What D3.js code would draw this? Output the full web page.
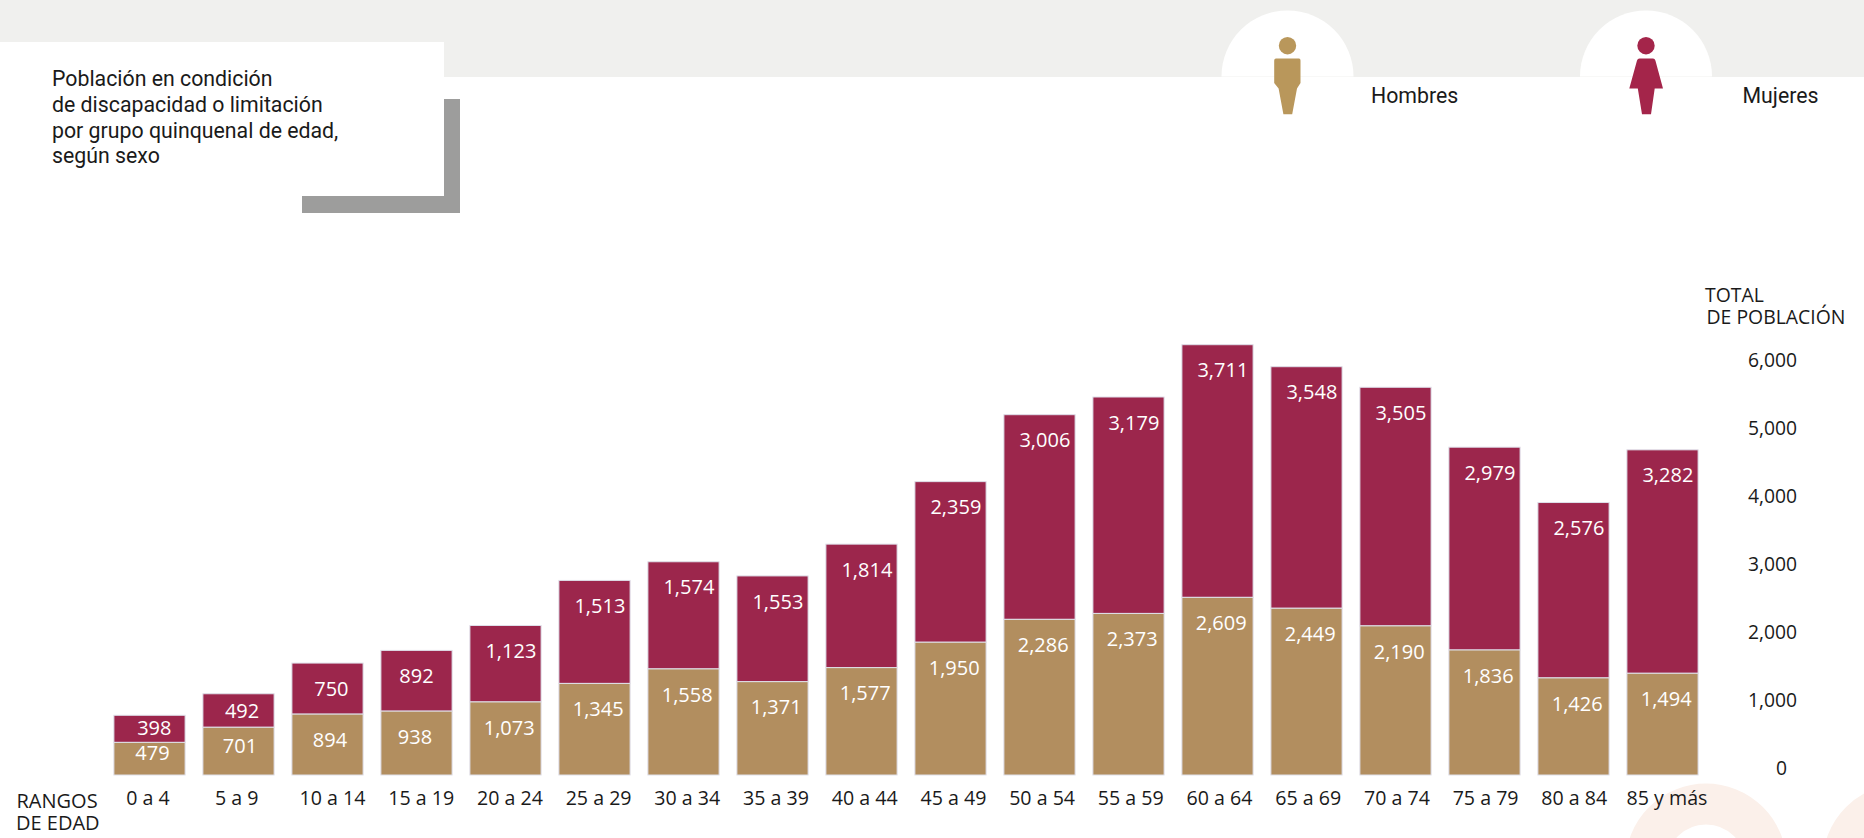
<!DOCTYPE html>
<html lang="es">
<head>
<meta charset="utf-8">
<title>Población en condición de discapacidad o limitación</title>
<script src="https://cdn.jsdelivr.net/npm/d3@7/dist/d3.min.js"></script>
<style>
html,body{margin:0;padding:0;background:#fff}
svg{display:block}
.open{font-family:"Open Sans",sans-serif}
.rob{font-family:Roboto,sans-serif}
</style>
</head>
<body>
<svg id="chart" width="1864" height="838"></svg>
<script>
const categories = ["0 a 4","5 a 9","10 a 14","15 a 19","20 a 24","25 a 29","30 a 34","35 a 39","40 a 44","45 a 49","50 a 54","55 a 59","60 a 64","65 a 69","70 a 74","75 a 79","80 a 84","85 y más"];
const hombres = [479,701,894,938,1073,1345,1558,1371,1577,1950,2286,2373,2609,2449,2190,1836,1426,1494];
const mujeres = [398,492,750,892,1123,1513,1574,1553,1814,2359,3006,3179,3711,3548,3505,2979,2576,3282];
const yTicks = [0,1000,2000,3000,4000,5000,6000];
const titleLines = ["Población en condición","de discapacidad o limitación","por grupo quinquenal de edad,","según sexo"];

const C_MEN = "#b28e5f", C_WOMEN = "#9c264c", C_INK = "#1a1a1a";
const fmt = d3.format(",");
const svg = d3.select("#chart");

/* ---------- header furniture ---------- */
svg.append("rect").attr("x",0).attr("y",0).attr("width",1864).attr("height",77).attr("fill","#f0f0ee");
svg.append("rect").attr("x",0).attr("y",42).attr("width",444).attr("height",180).attr("fill","#fff");
svg.append("rect").attr("x",444).attr("y",99).attr("width",16).attr("height",114).attr("fill","#9d9d9c");
svg.append("rect").attr("x",302).attr("y",196).attr("width",158).attr("height",17).attr("fill","#9d9d9c");

const titleText = svg.append("g").attr("class","rob").attr("font-size",21.3).attr("fill",C_INK);
titleLines.forEach((t,i)=> titleText.append("text").attr("x",52).attr("y",86+i*25.8).text(t));

/* ---------- decorative rings, bottom right ---------- */
[1706,1903].forEach(cx=>{
  svg.append("circle").attr("cx",cx).attr("cy",864).attr("r",60)
    .attr("fill","none").attr("stroke","#fbf0ea").attr("stroke-width",41);
});

/* ---------- legend ---------- */
const legendGroups = [
  {label:"Hombres",cx:1287.5,tx:1371,color:"#b9975b",
   body:"M1276,58.5 H1299 Q1300.5,58.5 1300.5,60.5 V83 L1297,88.5 L1292.2,114.3 H1283.4 L1278.6,88.5 L1274.2,83 V60.5 Q1274.2,58.5 1276,58.5 Z"},
  {label:"Mujeres",cx:1646,tx:1742.5,color:"#a4254a",
   body:"M1639.5,58.5 H1653 Q1654.8,58.5 1655.4,60.5 L1663,88.5 H1654.7 L1651,114.3 H1642 L1637.8,88.5 H1629.3 L1637,60.5 Q1637.6,58.5 1639.5,58.5 Z"}
];
legendGroups.forEach(l=>{
  svg.append("path").attr("fill","#fff")
    .attr("d",d3.arc()({innerRadius:0,outerRadius:66,startAngle:-Math.PI/2,endAngle:Math.PI/2}))
    .attr("transform",`translate(${l.cx},76.5)`);
  svg.append("circle").attr("cx",l.cx).attr("cy",45.7).attr("r",8.7).attr("fill",l.color);
  svg.append("path").attr("d",l.body).attr("fill",l.color);
  svg.append("text").attr("class","rob").attr("x",l.tx).attr("y",102.5)
    .attr("font-size",21.3).attr("fill",C_INK).text(l.label);
});

/* ---------- scales ---------- */
const x = d3.scaleBand().domain(categories).range([105,1707]).paddingInner(0.2).paddingOuter(0.1);
const y = d3.scaleLinear().domain([0,6000]).range([775,366.5]);
const tickX = d3.scalePoint().domain(categories).range([154.6,154.6+88.7*17]);

/* ---------- bars ---------- */
const rows = categories.map((c,i)=>({c,i,m:hombres[i],w:mujeres[i]}));
const bars = svg.append("g");
const barAttrs = s => s.attr("x",d=>x(d.c)).attr("width",x.bandwidth())
  .attr("stroke","#dfe0ea").attr("stroke-width",1);
bars.selectAll("rect.w").data(rows).join("rect").attr("class","w").call(barAttrs)
  .attr("y",d=>y(d.m+d.w)).attr("height",d=>y(d.m)-y(d.m+d.w)).attr("fill",C_WOMEN);
bars.selectAll("rect.m").data(rows).join("rect").attr("class","m").call(barAttrs)
  .attr("y",d=>y(d.m)).attr("height",d=>y(0)-y(d.m)).attr("fill",C_MEN);

/* ---------- value labels: inset from segment top, with hand nudges for short segments ---------- */
const womenInset = {0:12.6,1:16.7};
const menInset = {0:10.7,1:18.7};
const womenDx = {0:4.8,1:3.6,2:3.9,3:0};
const menDx = {0:3,1:1.5,2:2.5,3:-1.5};
const LABEL_SIZE = 20, midShift = LABEL_SIZE*0.357;
const labels = svg.append("g").attr("class","open").attr("font-size",LABEL_SIZE)
  .attr("fill","#fff").attr("text-anchor","middle");
labels.selectAll("text.w").data(rows).join("text").attr("class","w")
  .attr("x",d=>x(d.c)+x.bandwidth()/2+(womenDx[d.i]??5.4))
  .attr("y",d=>y(d.m+d.w)+(womenInset[d.i]??25.5)+midShift)
  .text(d=>fmt(d.w));
labels.selectAll("text.m").data(rows).join("text").attr("class","m")
  .attr("x",d=>x(d.c)+x.bandwidth()/2+(menDx[d.i]??3.7))
  .attr("y",d=>y(d.m)+(menInset[d.i]??25.5)+midShift)
  .text(d=>fmt(d.m));

/* ---------- axes ---------- */
const xAxis = svg.append("g").attr("class","open").attr("transform","translate(0,804.5)")
  .call(d3.axisBottom(tickX).tickSize(0).tickPadding(0));
xAxis.select(".domain").remove();
xAxis.selectAll("text").attr("font-family","'Open Sans',sans-serif").attr("font-size",19.6).attr("fill",C_INK)
  .attr("dy",0).attr("y",0)
  .attr("dx",(d,i)=> i<2 ? -7.1 : (i===17 ? 4 : 0));

const yAxis = svg.append("g").attr("class","open").attr("transform","translate(1797,0)")
  .call(d3.axisRight(y).tickValues(yTicks).tickFormat(fmt).tickSize(0).tickPadding(0));
yAxis.select(".domain").remove();
yAxis.selectAll("text").attr("font-family","'Open Sans',sans-serif").attr("font-size",19.3).attr("fill",C_INK)
  .attr("text-anchor","end").attr("x",d=>d===0?-10:0).attr("dy",0).attr("y",-7+19.3*0.357);

/* ---------- axis titles: one text element per title, two lines each ---------- */
const totalTitle = svg.append("text").attr("class","open").attr("font-size",19.4).attr("fill",C_INK);
totalTitle.append("tspan").attr("x",1705).attr("y",301.5).text("TOTAL");
totalTitle.append("tspan").attr("x",1706.5).attr("y",323.8).text("DE POBLACIÓN");
const rangeTitle = svg.append("text").attr("class","open").attr("font-size",20).attr("fill",C_INK);
rangeTitle.append("tspan").attr("x",16.5).attr("y",807.5).text("RANGOS");
rangeTitle.append("tspan").attr("x",16).attr("y",830).text("DE EDAD");
</script>
</body>
</html>
